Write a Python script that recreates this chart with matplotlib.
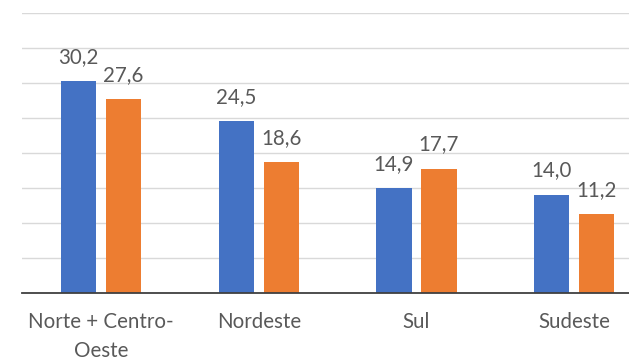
import matplotlib
matplotlib.use("Agg")
import matplotlib.pyplot as plt
import numpy as np

plt.rcParams['font.family'] = ['Lato', 'DejaVu Sans']

regions = ["Norte + Centro-\nOeste", "Nordeste", "Sul", "Sudeste"]
serie_a = [30.2, 24.5, 14.9, 14.0]
serie_b = [27.6, 18.6, 17.7, 11.2]

cor_a = "#4472C4"
cor_b = "#ED7D31"
cor_texto = "#595959"

W, H = 629, 363
fig = plt.figure(figsize=(W / 100, H / 100), dpi=100)
left_px, base_px, top_px = 22.4, 292.7, 12.7
ax = fig.add_axes([left_px / W, (H - base_px) / H,
                   (W - left_px) / W, (base_px - top_px) / H])

x = np.arange(len(regions))
bw = 0.225
off = 0.1425
bars_a = ax.bar(x - off, serie_a, bw, color=cor_a, zorder=3)
bars_b = ax.bar(x + off, serie_b, bw, color=cor_b, zorder=3)

for bars, vals in ((bars_a, serie_a), (bars_b, serie_b)):
    for b, v in zip(bars, vals):
        ax.annotate(f"{v:.1f}".replace(".", ","),
                    (b.get_x() + b.get_width() / 2, v),
                    xytext=(0, 13.3), textcoords="offset points",
                    ha="center", va="baseline", fontsize=14.8,
                    color=cor_texto)

ax.set_xlim(-0.5, 3.349)
ax.set_ylim(0, 40)
ax.set_yticks(np.arange(0, 41, 5))
ax.yaxis.grid(True, color="#D9D9D9", linewidth=1.0, zorder=0)
ax.tick_params(axis="y", left=False, labelleft=False)
ax.set_xticks(x)
ax.set_xticklabels(regions, fontsize=14.8, color=cor_texto, linespacing=1.55)
ax.tick_params(axis="x", length=0, pad=14)

for s in ("left", "right", "top"):
    ax.spines[s].set_visible(False)
ax.spines["bottom"].set_color("#404040")
ax.spines["bottom"].set_linewidth(1.3)
ax.spines["bottom"].set_zorder(4)

fig.savefig("out.png", dpi=100)
